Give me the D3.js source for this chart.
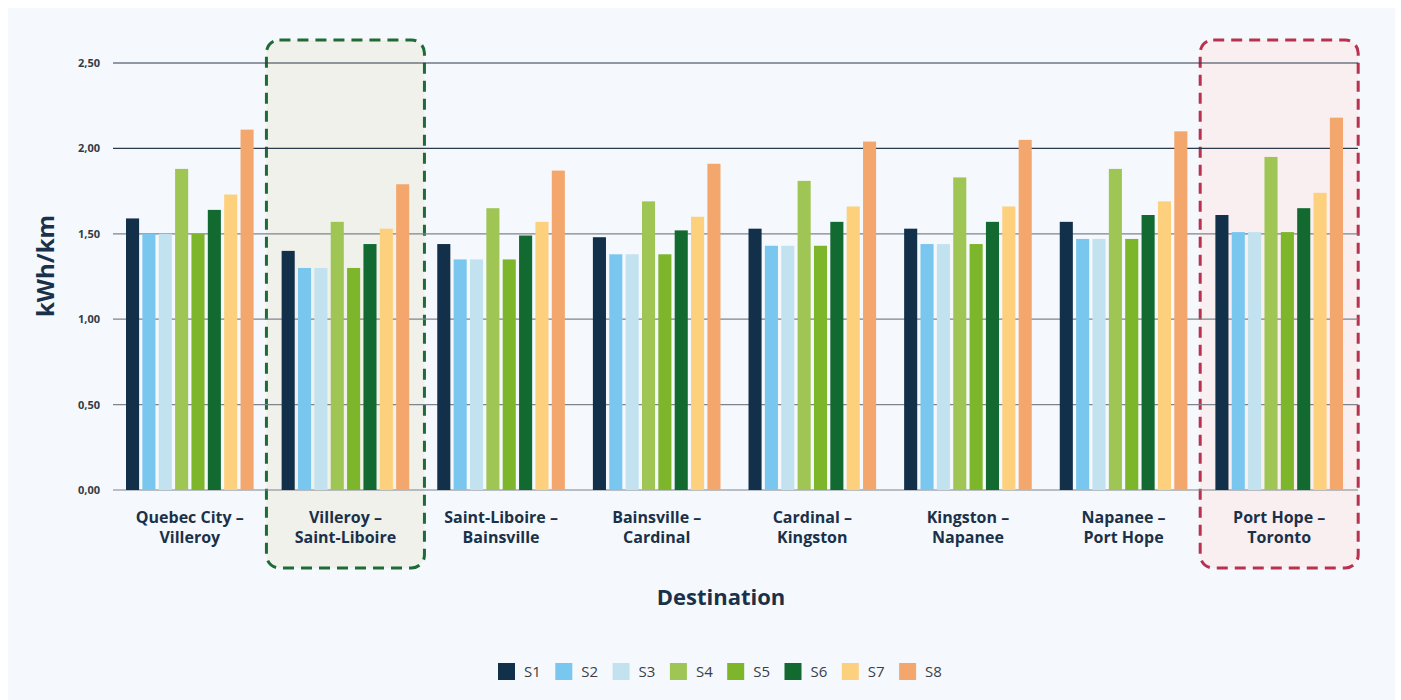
<!DOCTYPE html>
<html><head><meta charset="utf-8">
<script src="https://cdn.jsdelivr.net/npm/d3@7"></script>
<style>body{margin:0;background:#fff;}svg{display:block;}</style>
</head><body>
<script>
const categories = [["Quebec City –","Villeroy"],["Villeroy –","Saint-Liboire"],["Saint-Liboire –","Bainsville"],["Bainsville –","Cardinal"],["Cardinal –","Kingston"],["Kingston –","Napanee"],["Napanee –","Port Hope"],["Port Hope –","Toronto"]];
const seriesNames = ["S1","S2","S3","S4","S5","S6","S7","S8"];
const S1 = [1.59,1.40,1.44,1.48,1.53,1.53,1.57,1.61];
const S2 = [1.50,1.30,1.35,1.38,1.43,1.44,1.47,1.51];
const S3 = [1.50,1.30,1.35,1.38,1.43,1.44,1.47,1.51];
const S4 = [1.88,1.57,1.65,1.69,1.81,1.83,1.88,1.95];
const S5 = [1.50,1.30,1.35,1.38,1.43,1.44,1.47,1.51];
const S6 = [1.64,1.44,1.49,1.52,1.57,1.57,1.61,1.65];
const S7 = [1.73,1.53,1.57,1.60,1.66,1.66,1.69,1.74];
const S8 = [2.11,1.79,1.87,1.91,2.04,2.05,2.10,2.18];
const yTicks = [0,0.5,1,1.5,2,2.5];
const colors = ["#13304a","#79c7ef","#c3e2f0","#9fc555","#7db62a","#136a31","#fdd07e","#f4a76c"];
const highlights = [{index:1,stroke:"#1f6b35",fill:"#f1f1ec"},{index:7,stroke:"#b8324f",fill:"#f9eff0"}];

const series = [S1,S2,S3,S4,S5,S6,S7,S8];
const W=1401,H=700;
const svg=d3.select("body").append("svg").attr("width",W).attr("height",H);
svg.append("rect").attr("x",8).attr("y",8).attr("width",W-14).attr("height",H-8).attr("fill","#f5f9fd");

const font="'Open Sans',sans-serif";
const x=d3.scaleBand().domain(d3.range(categories.length)).range([112,1357]).paddingInner(0.18).paddingOuter(0.09);
const xs=d3.scaleBand().domain(d3.range(seriesNames.length)).range([0,x.bandwidth()]).paddingInner(0.2).paddingOuter(0);
const y=d3.scaleLinear().domain([0,2.5]).range([490,63]);

// highlight boxes
highlights.forEach(h=>{
  const cx=x(h.index)+x.bandwidth()/2;
  svg.append("rect").attr("x",cx-79).attr("y",40).attr("width",158).attr("height",528)
    .attr("rx",13).attr("fill",h.fill).attr("stroke",h.stroke).attr("stroke-width",3)
    .attr("stroke-dasharray","11,7");
});

// grid
const fmt=d=>d.toFixed(2).replace(".",",");
svg.append("g").selectAll("line").data(yTicks).join("line")
  .attr("x1",113).attr("x2",1358).attr("y1",d=>y(d)).attr("y2",d=>y(d))
  .attr("stroke",d=>d>=2?"#2c3b4b":"#7d848c").attr("stroke-width",1.2);
svg.append("g").selectAll("text").data(yTicks).join("text")
  .attr("x",100).attr("y",d=>y(d)+4).attr("text-anchor","end")
  .attr("font-family",font).attr("font-weight","bold").attr("font-size",11).attr("fill","#333c45")
  .text(fmt);

// bars
const g=svg.append("g");
series.forEach((vals,si)=>{
  g.append("g").selectAll("rect").data(vals).join("rect")
    .attr("x",(d,i)=>x(i)+xs(si)).attr("width",xs.bandwidth())
    .attr("y",d=>y(d)).attr("height",d=>y(0)-y(d)).attr("fill",colors[si]);
});

// x labels
categories.forEach((c,i)=>{
  const t=svg.append("text").attr("x",x(i)+x.bandwidth()/2).attr("text-anchor","middle")
    .attr("font-family",font).attr("font-weight","bold").attr("font-size",16).attr("fill","#1b3149");
  t.append("tspan").attr("x",x(i)+x.bandwidth()/2).attr("y",523).text(c[0]);
  t.append("tspan").attr("x",x(i)+x.bandwidth()/2).attr("y",543).text(c[1]);
});

svg.append("text").attr("x",721).attr("y",605).attr("text-anchor","middle")
  .attr("font-family",font).attr("font-weight","bold").attr("font-size",22).attr("fill","#1b3149").text("Destination");
svg.append("text").attr("transform","translate(54,266) rotate(-90)").attr("text-anchor","middle")
  .attr("font-family",font).attr("font-weight","bold").attr("font-size",24).attr("fill","#1b3149").text("kWh/km");

// legend
const lg=svg.append("g").selectAll("g").data(seriesNames).join("g")
  .attr("transform",(d,i)=>`translate(${498+i*57.3},663)`);
lg.append("rect").attr("width",17).attr("height",17).attr("fill",(d,i)=>colors[i]);
lg.append("text").attr("x",26).attr("y",14).attr("font-family",font).attr("font-size",15).attr("fill","#3a3f45").text(d=>d);
</script>
</body></html>
